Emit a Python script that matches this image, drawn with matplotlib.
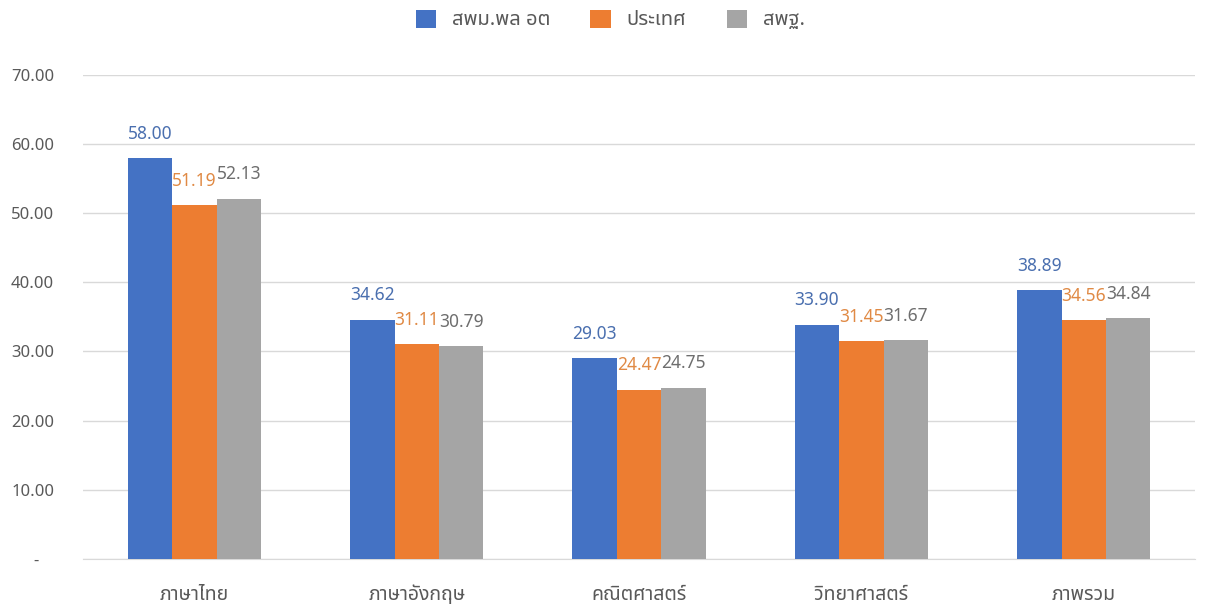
import matplotlib
matplotlib.use("Agg")
import matplotlib.pyplot as plt
from matplotlib import font_manager
import matplotlib.transforms as mtransforms
import numpy as np

categories = ["ภาษาไทย", "ภาษาอังกฤษ", "คณิตศาสตร์", "วิทยาศาสตร์", "ภาพรวม"]
series_names = ["สพม.พล อต", "ประเทศ", "สพฐ."]
school = [58.00, 34.62, 29.03, 33.90, 38.89]
nation = [51.19, 31.11, 24.47, 31.45, 34.56]
obec = [52.13, 30.79, 24.75, 31.67, 34.84]
yticks = [0, 10, 20, 30, 40, 50, 60, 70]
ytick_labels = ["-", "10.00", "20.00", "30.00", "40.00", "50.00", "60.00", "70.00"]

# find a font with Thai glyphs
thai_family = None
try:
    from fontTools.ttLib import TTFont
    prefs = []
    for f in font_manager.fontManager.ttflist:
        try:
            tt = TTFont(f.fname, fontNumber=0, lazy=True)
            cmap = tt.getBestCmap()
            if cmap and 0x0E20 in cmap and 0x0E44 in cmap:
                prefs.append(f.name)
        except Exception:
            pass
    for pref in ["Noto Sans Thai", "Noto Sans Thai UI", "Tahoma", "Leelawadee UI", "Noto Sans", "DejaVu Sans"]:
        if pref in prefs:
            thai_family = pref
            break
    if thai_family is None and prefs:
        thai_family = prefs[0]
except Exception:
    pass

fams = ([thai_family] if thai_family else []) + ["DejaVu Sans"]
plt.rcParams["font.family"] = fams

colors = ["#4472C4", "#ED7D31", "#A5A5A5"]
label_colors = ["#4A6FAF", "#E08A45", "#6E6E6E"]
text_grey = "#595959"

fig = plt.figure(figsize=(12.07, 6.06), dpi=100)
ax = fig.add_axes([0.069, 0.078, 0.921, 0.798])

x = np.arange(len(categories))
w = 0.2
data = [school, nation, obec]
for i, (vals, c, lc, name) in enumerate(zip(data, colors, label_colors, series_names)):
    bars = ax.bar(x + (i - 1) * w, vals, w, color=c, label=name, zorder=3)
    for b, v in zip(bars, vals):
        ax.annotate(f"{v:.2f}", (b.get_x() + b.get_width() / 2, v),
                    xytext=(0, 11), textcoords="offset points",
                    ha="center", va="bottom", fontsize=12.5, color=lc)

ax.set_xlim(-0.5, len(categories) - 0.5)
ax.set_ylim(0, 70)
ax.set_yticks(yticks)
ax.set_yticklabels(ytick_labels)
ax.set_xticks(x)
ax.set_xticklabels(categories, fontsize=14)
ax.grid(axis="y", color="#D9D9D9", linewidth=1, zorder=0)
for s in ["top", "right", "left"]:
    ax.spines[s].set_visible(False)
ax.spines["bottom"].set_color("#D9D9D9")
ax.tick_params(axis="x", length=0, colors=text_grey, pad=19)
ax.tick_params(axis="y", length=0, labelsize=12, colors=text_grey, pad=21)

# the "-" zero label sits left of the right-aligned edge (accounting format)
zl = ax.get_yticklabels()[0]
zl.set_transform(zl.get_transform() + mtransforms.ScaledTranslation(-11 / 72, 0, fig.dpi_scale_trans))

ax.legend(loc="center", bbox_to_anchor=(0.474, 1.114), ncol=3, frameon=False,
          fontsize=14.5, labelcolor=text_grey, handlelength=1.0, handleheight=1.0,
          columnspacing=2.0, handletextpad=0.8)

fig.savefig("out.png", dpi=100, facecolor="white")
